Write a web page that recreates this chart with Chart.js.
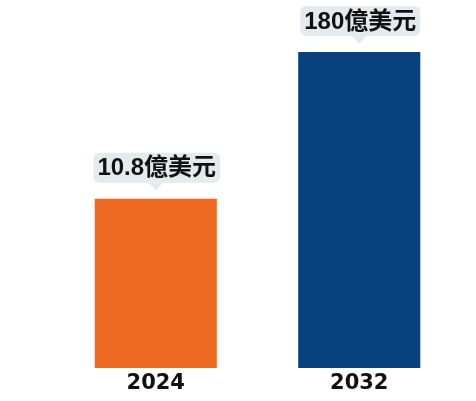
<!DOCTYPE html>
<html>
<head>
<meta charset="utf-8">
<script src="https://cdn.jsdelivr.net/npm/chart.js@4/dist/chart.umd.min.js"></script>
<style>
  html, body { margin: 0; padding: 0; background: #fff; }
  #wrap { width: 476px; height: 401px; }
</style>
</head>
<body>
<div id="wrap"><canvas id="grafico"></canvas></div>
<script>
// datos
const years = ['2024', '2032'];
const values = [10.8, 180];
const valueLabels = ['10.8億美元', '180億美元'];
const barColors = ['#EE6A22', '#07427F'];

// etiquetas tipo globo encima de cada barra
const calloutPlugin = {
  id: 'callouts',
  afterDatasetsDraw(chart) {
    const ctx = chart.ctx;
    const meta = chart.getDatasetMeta(0);
    ctx.save();
    ctx.font = "bold 24px Arial, 'Liberation Sans', 'Noto Sans CJK TC', sans-serif";
    meta.data.forEach((bar, i) => {
      const txt = valueLabels[i];
      const w = ctx.measureText(txt).width + 8;
      const h = 30;
      const cx = bar.x;
      const bottom = bar.y - 16;
      const left = cx - w / 2 + 1;
      ctx.fillStyle = '#E3EBEE';
      ctx.beginPath();
      ctx.roundRect(left, bottom - h, w, h, 6);
      ctx.fill();
      // punta
      ctx.beginPath();
      ctx.moveTo(cx - 7, bottom);
      ctx.lineTo(cx + 7, bottom);
      ctx.lineTo(cx, bottom + 8);
      ctx.closePath();
      ctx.fill();
      ctx.fillStyle = '#111';
      ctx.textAlign = 'center';
      ctx.textBaseline = 'middle';
      ctx.fillText(txt, left + w / 2, bottom - h / 2 + 1);
    });
    ctx.restore();
  }
};

const ctxGrafico = document.getElementById('grafico').getContext('2d');
const grafico = new Chart(ctxGrafico, {
  type: 'bar',
  data: {
    labels: years,
    datasets: [{
      data: values,
      backgroundColor: barColors,
      borderWidth: 0,
      barPercentage: 0.6,
      categoryPercentage: 1
    }]
  },
  options: {
    responsive: true,
    maintainAspectRatio: false,
    animation: false,
    layout: { padding: { left: 54, right: 15, top: 52, bottom: 2 } },
    plugins: { legend: { display: false }, tooltip: { enabled: false } },
    scales: {
      x: {
        grid: { display: false, drawTicks: false },
        border: { display: false },
        ticks: {
          color: '#111',
          padding: 5,
          font: { family: "'DejaVu Sans'", weight: 'bold', size: 21, lineHeight: 1 }
        }
      },
      y: {
        type: 'logarithmic',
        display: false,
        min: 0.42,
        max: 180
      }
    }
  },
  plugins: [calloutPlugin]
});
</script>
</body>
</html>
